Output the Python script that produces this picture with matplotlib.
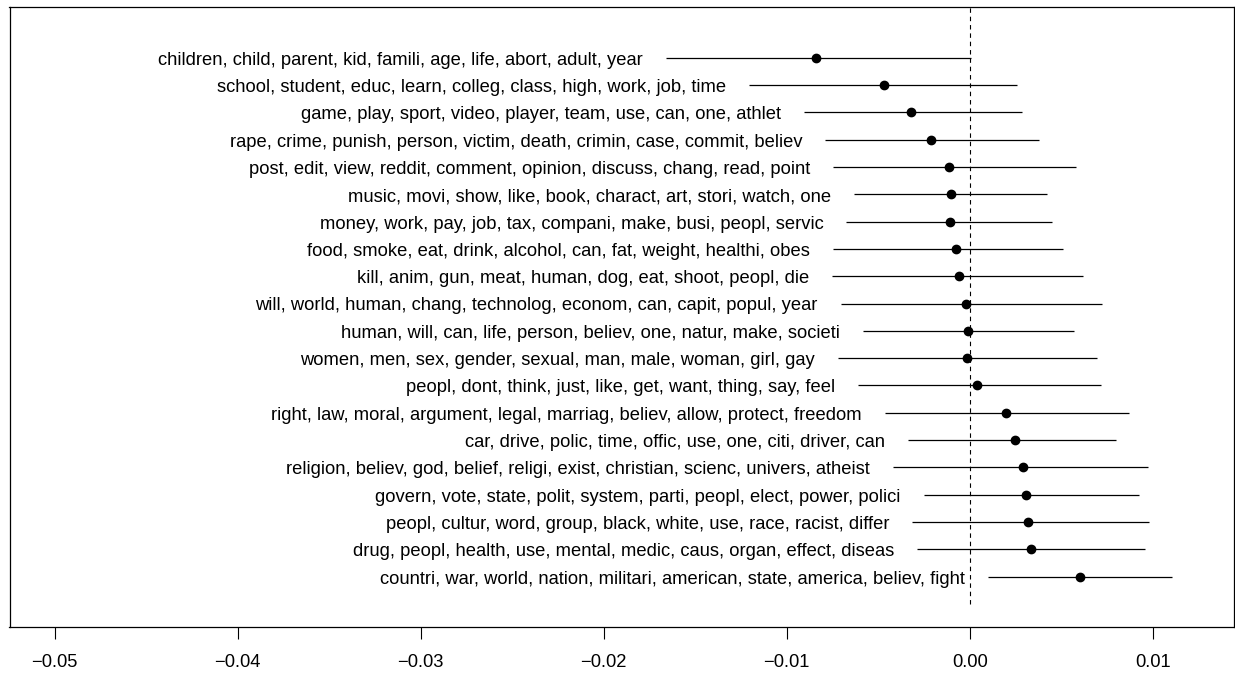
import matplotlib
matplotlib.use("Agg")
import matplotlib.pyplot as plt
import numpy as np

plt.rcParams["font.family"] = ["Liberation Sans", "DejaVu Sans"]

# Topic labels, top to bottom
topics = [
    "children, child, parent, kid, famili, age, life, abort, adult, year",
    "school, student, educ, learn, colleg, class, high, work, job, time",
    "game, play, sport, video, player, team, use, can, one, athlet",
    "rape, crime, punish, person, victim, death, crimin, case, commit, believ",
    "post, edit, view, reddit, comment, opinion, discuss, chang, read, point",
    "music, movi, show, like, book, charact, art, stori, watch, one",
    "money, work, pay, job, tax, compani, make, busi, peopl, servic",
    "food, smoke, eat, drink, alcohol, can, fat, weight, healthi, obes",
    "kill, anim, gun, meat, human, dog, eat, shoot, peopl, die",
    "will, world, human, chang, technolog, econom, can, capit, popul, year",
    "human, will, can, life, person, believ, one, natur, make, societi",
    "women, men, sex, gender, sexual, man, male, woman, girl, gay",
    "peopl, dont, think, just, like, get, want, thing, say, feel",
    "right, law, moral, argument, legal, marriag, believ, allow, protect, freedom",
    "car, drive, polic, time, offic, use, one, citi, driver, can",
    "religion, believ, god, belief, religi, exist, christian, scienc, univers, atheist",
    "govern, vote, state, polit, system, parti, peopl, elect, power, polici",
    "peopl, cultur, word, group, black, white, use, race, racist, differ",
    "drug, peopl, health, use, mental, medic, caus, organ, effect, diseas",
    "countri, war, world, nation, militari, american, state, america, believ, fight",
]

# Point estimates and interval bounds
estimate = [-0.00840, -0.00467, -0.00323, -0.00210, -0.00113, -0.00104, -0.00106,
            -0.00077, -0.00060, -0.00018, -0.00011, -0.00013, 0.00040, 0.00197,
            0.00248, 0.00293, 0.00306, 0.00319, 0.00337, 0.00603]
lower = [-0.01662, -0.01205, -0.00906, -0.00789, -0.00747, -0.00631, -0.00673,
         -0.00747, -0.00751, -0.00704, -0.00582, -0.00720, -0.00612, -0.00463,
         -0.00335, -0.00421, -0.00252, -0.00315, -0.00288, 0.00098]
upper = [0.00007, 0.00257, 0.00284, 0.00381, 0.00580, 0.00425, 0.00452,
         0.00508, 0.00618, 0.00722, 0.00569, 0.00694, 0.00716, 0.00873,
         0.00798, 0.00973, 0.00924, 0.00979, 0.00960, 0.01104]

xticks = [-0.05, -0.04, -0.03, -0.02, -0.01, 0.00, 0.01]
xticklabels = ["\u22120.05", "\u22120.04", "\u22120.03", "\u22120.02", "\u22120.01", "0.00", "0.01"]

W, H = 1235, 673
fig = plt.figure(figsize=(W / 100, H / 100), dpi=100)
ax = fig.add_axes([9.5 / W, (H - 627) / H, (1233.5 - 9.5) / W, (627 - 7.4) / H])

n = len(topics)
ypos = np.arange(n, 0, -1)  # first topic at the top

# dashed reference line at zero, stopping at y = 0
ax.vlines(0, 0, 21.84, color="black", lw=0.8, linestyle=(0, (4, 3.5)))
ax.hlines(ypos, lower, upper, color="black", lw=0.9)
ax.plot(estimate, ypos, "o", color="black", markersize=6)

for y, lo, lab in zip(ypos, lower, topics):
    ax.annotate(lab, xy=(lo, y), xytext=(-16.5, -5), textcoords="offset points",
                ha="right", va="baseline", fontsize=13.2)

ax.set_xlim(-0.05247, 0.01442)
ax.set_ylim(-0.84, 21.84)
ax.set_yticks([])
ax.set_xticks(xticks)
ax.set_xticklabels(xticklabels, fontsize=13.2)
ax.tick_params(axis="x", length=8.6, width=0.8, pad=11)
for s in ax.spines.values():
    s.set_linewidth(0.9)

fig.savefig("out.png", dpi=100)
